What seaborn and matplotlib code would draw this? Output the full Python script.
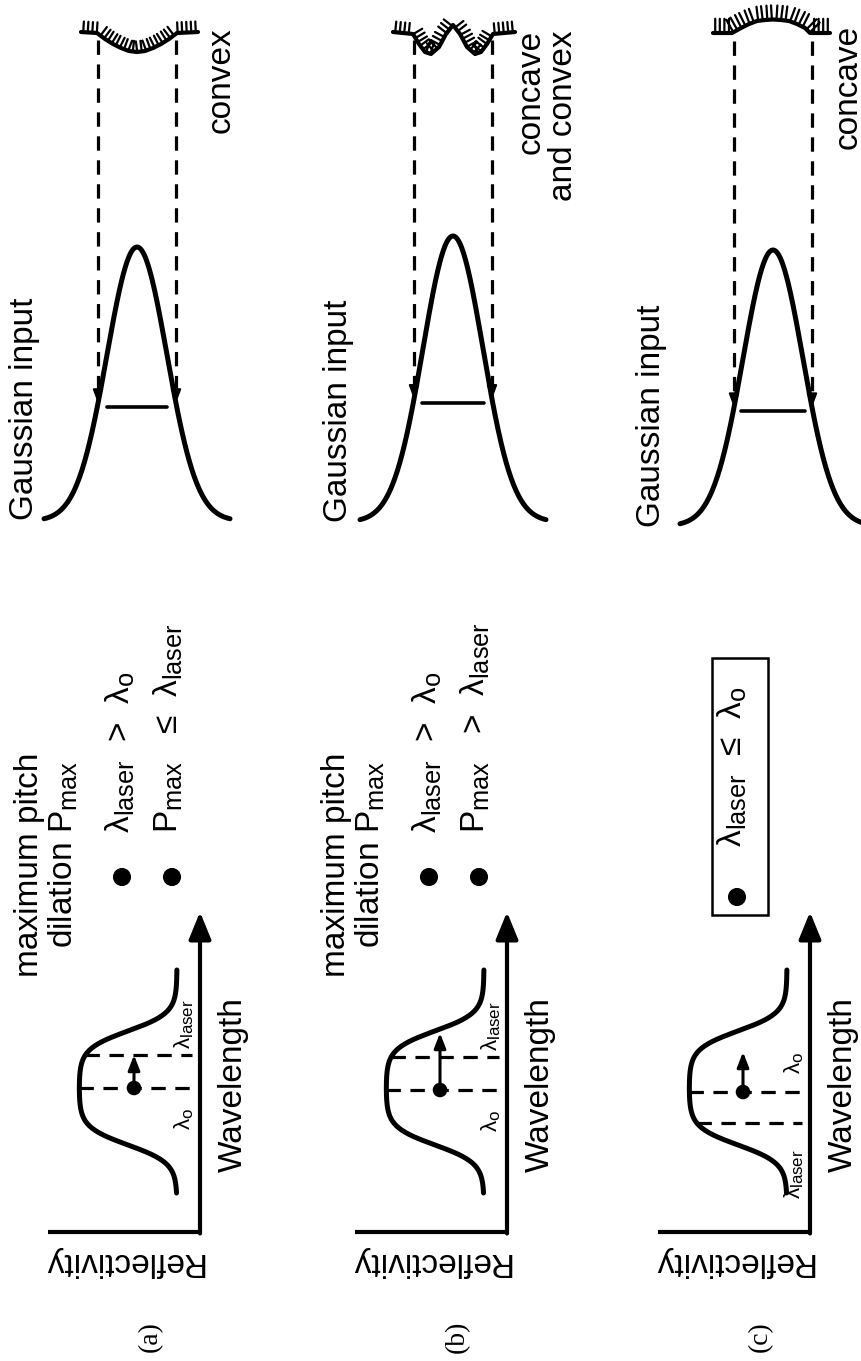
import numpy as np
import pandas as pd
import matplotlib
matplotlib.use("Agg")
import matplotlib.pyplot as plt
import matplotlib.patheffects as pe
from matplotlib.patches import Rectangle
import seaborn as sns

try:
    import matplotlib._mathtext as _mt
    _mt.SHRINK_FACTOR = 0.76
except Exception:
    pass

# ------------------------------------------------------------------ data
panel_labels = ["(a)", "(b)", "(c)"]
surface_labels = [["convex"], ["concave", "and convex"], ["concave"]]
header_lines = [["maximum pitch", r"dilation P$_{\rm max}$"],
                ["maximum pitch", r"dilation P$_{\rm max}$"],
                []]
conditions = [[r"λ$_{\rm laser}$  >  λ$_{\rm o}$", r"P$_{\rm max}$   ≤  λ$_{\rm laser}$"],
              [r"λ$_{\rm laser}$  >  λ$_{\rm o}$", r"P$_{\rm max}$   >  λ$_{\rm laser}$"],
              [r"λ$_{\rm laser}$  ≤  λ$_{\rm o}$"]]
boxed = [False, False, True]

# reflectivity band (wavelength / reflectivity in drawing units)
band_rise = 87
band_fall = 201
band_soft = 9
band_floor = 23
band_top = 121
band_span = [39, 262]
lambda_o = [144, 142, 140]
lambda_laser = [177, 175, 109]
pitch_arrow_end = [177, 199, 180]
dot_reflect = [66, 67, 67]

# gaussian input
gauss_amp = [274, 286, 276]
gauss_sigma = [30, 30, 30]
gauss_extent = 93
beam_level = 0.415
beam_halfwidth = [30, 31, 32]
probe_offset = 39

# surface profiles (x relative to beam centre, depth below surface line)
surf_x = [[-56, -40, -32, -24, -16, -8, 0, 8, 16, 24, 32, 40, 61],
          [-60, -40, -34, -28, -22, -14, -7, 0, 7, 14, 22, 28, 34, 40, 62],
          [-60, -41, -32, -24, -16, -8, 0, 8, 16, 24, 32, 37, 57]]
surf_depth = [[0, 1, 7, 12, 16, 19, 20, 19, 16, 12, 7, 1, 0],
              [0, 2, 12, 20, 22, 15, 2, -7, 2, 15, 22, 20, 12, 2, 0],
              [0, 0, -5, -9, -12, -13, -13.5, -13, -12, -9, -5, 0, 0]]

# ------------------------------------------------------------------ layout
AXIS_X = [200, 507, 810]
AXIS_Y = 1232
GAUSS_CX = [137, 453, 773]
GAUSS_BASE = [521, 522, 526]
SURF_Y = [32, 32, 33]
GAUSS_LABEL = [(33, 520), (347, 522), (660, 527)]
SURF_LABEL_X = [[230], [540, 572], [857]]
SURF_LABEL_Y = [27, 30, 25]

sns.set_theme(style="white")
SANS = "Liberation Sans"
plt.rcParams["font.family"] = [SANS, "DejaVu Sans"]
plt.rcParams["mathtext.fontset"] = "custom"
plt.rcParams["mathtext.rm"] = SANS
plt.rcParams["mathtext.it"] = SANS + ":italic"
plt.rcParams["mathtext.bf"] = SANS + ":bold"

fig = plt.figure(figsize=(8.62, 13.61), dpi=100)
ax = fig.add_axes([0, 0, 1, 1])
ax.set_xlim(0, 862)
ax.set_ylim(1361, 0)
ax.axis("off")

K = "black"
BIG = 24


def rtext(x, y, s, size=BIG, ha="left", **kw):
    ax.text(x, y, s, rotation=90, rotation_mode="anchor", ha=ha,
            va="baseline", fontsize=size, color=K, **kw)


def logistic(z):
    return 1.0 / (1.0 + np.exp(-z))


def band(w):
    return band_floor + (band_top - band_floor) * (
        logistic((w - band_rise) / band_soft) - logistic((w - band_fall) / band_soft))


DASH = (0, (4.5, 3))

for i in range(3):
    ox = AXIS_X[i]
    # ---------------- reflectivity diagram
    ax.plot([ox - 152, ox], [AXIS_Y, AXIS_Y], color=K, lw=3, solid_capstyle="butt")
    ax.annotate("", xy=(ox, AXIS_Y - 320), xytext=(ox, AXIS_Y + 1.5),
                arrowprops=dict(arrowstyle="-|>,head_length=1.1,head_width=0.45",
                                mutation_scale=15, lw=3, color=K,
                                shrinkA=0, shrinkB=0))
    w = np.linspace(band_span[0], band_span[1], 300)
    df = pd.DataFrame({"x": ox - band(w), "y": AXIS_Y - w})
    sns.lineplot(data=df, x="x", y="y", sort=False, estimator=None, ax=ax,
                 color=K, lw=3.6, legend=False)
    for lam in (lambda_o[i], lambda_laser[i]):
        ax.plot([ox - band(lam), ox - 8], [AXIS_Y - lam, AXIS_Y - lam],
                color=K, lw=2.3, linestyle=DASH)
    lo, ll = lambda_o[i], lambda_laser[i]
    if ll > lo:
        rtext(ox - 10, AXIS_Y - lo + 42, r"λ$_{\rm o}$", size=16, ha="left")
        rtext(ox - 10, AXIS_Y - ll - 6, r"λ$_{\rm laser}$", size=16, ha="left")
    else:
        rtext(ox - 10, AXIS_Y - lo - 18, r"λ$_{\rm o}$", size=16, ha="left")
        rtext(ox - 10, AXIS_Y - ll + 76, r"λ$_{\rm laser}$", size=16, ha="left")
    sns.scatterplot(x=[ox - dot_reflect[i]], y=[AXIS_Y - lo], s=110, color=K,
                    edgecolor="none", ax=ax, legend=False, zorder=5)
    ax.annotate("", xy=(ox - dot_reflect[i], AXIS_Y - pitch_arrow_end[i]),
                xytext=(ox - dot_reflect[i], AXIS_Y - lo),
                arrowprops=dict(arrowstyle="-|>,head_length=0.9,head_width=0.35",
                                mutation_scale=10, lw=2.2, color=K,
                                shrinkA=0, shrinkB=0))
    ax.text(ox - 77, 1262, "Reflectivity", rotation=180, ha="center",
            va="center", fontsize=BIG, color=K)
    ax.text(ox + 33, 1085, "Wavelength", rotation=90, ha="center",
            va="center", fontsize=BIG, color=K)
    ax.text(ox - 50, 1337, panel_labels[i], rotation=90, ha="center",
            va="center", fontsize=20, color=K, family="Liberation Serif")

    # ---------------- conditions
    if header_lines[i]:
        rtext(ox - 162, 977, header_lines[i][0])
        rtext(ox - 127, 948, header_lines[i][1])
    if not boxed[i]:
        for j, (txt, bx, dx) in enumerate(zip(conditions[i], (70, 22), (78, 28))):
            sns.scatterplot(x=[ox - dx], y=[877], s=170, color=K,
                            edgecolor="none", ax=ax, legend=False)
            rtext(ox - bx, 833, txt)
    else:
        ax.add_patch(Rectangle((ox - 98, 658), 56, 257, fill=False, lw=1.8,
                               edgecolor=K))
        sns.scatterplot(x=[ox - 73], y=[897], s=170, color=K,
                        edgecolor="none", ax=ax, legend=False)
        rtext(ox - 68, 847, conditions[i][0])

    # ---------------- gaussian input
    cx, base = GAUSS_CX[i], GAUSS_BASE[i]
    amp, sig = gauss_amp[i], gauss_sigma[i]
    xr = np.linspace(-gauss_extent, gauss_extent, 300)
    gy = amp * np.exp(-xr ** 2 / (2 * sig ** 2))
    gdf = pd.DataFrame({"x": cx + xr, "y": base - gy})
    sns.lineplot(data=gdf, x="x", y="y", sort=False, estimator=None, ax=ax,
                 color=K, lw=3.6, legend=False)
    ax.plot([cx - beam_halfwidth[i], cx + beam_halfwidth[i]],
            [base - amp * beam_level] * 2, color=K, lw=2.6)
    rtext(GAUSS_LABEL[i][0], GAUSS_LABEL[i][1], "Gaussian input")

    for sgn in (-1, 1):
        px = cx + sgn * probe_offset
        yend = base - amp * np.exp(-probe_offset ** 2 / (2 * sig ** 2))
        ax.plot([px, px], [SURF_Y[i] + 8, yend - 8], color=K, lw=2.3,
                linestyle=DASH)
        ax.annotate("", xy=(px, yend), xytext=(px, yend - 9),
                    arrowprops=dict(arrowstyle="-|>,head_length=0.8,head_width=0.3",
                                    mutation_scale=10, lw=1.5, color=K,
                                    shrinkA=0, shrinkB=0))

    sx = cx + np.array(surf_x[i])
    sy = SURF_Y[i] + np.array(surf_depth[i])
    tick_len = 3.2 if i == 2 else 2.4
    ax.plot(sx, sy, color=K, lw=3, solid_joinstyle="round",
            path_effects=[pe.withTickedStroke(angle=90, spacing=3.2,
                                              length=tick_len, linewidth=1.6)])
    for txt, tx in zip(surface_labels[i], SURF_LABEL_X[i]):
        rtext(tx, SURF_LABEL_Y[i], txt, ha="right")

fig.savefig("out.png", dpi=100)
